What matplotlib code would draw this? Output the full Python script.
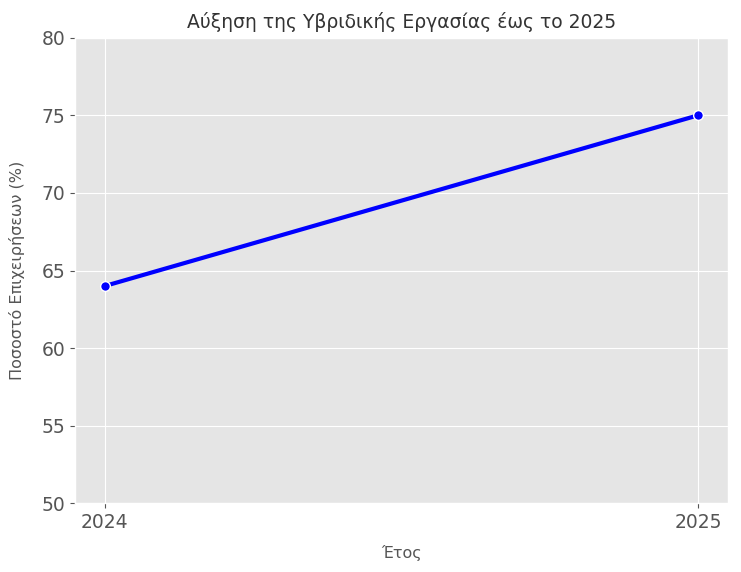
import matplotlib.pyplot as plt

years = [2024, 2025]
percent = [64, 75]

plt.style.use('ggplot')
fig, ax = plt.subplots(figsize=(7.41, 5.72), dpi=100)

ax.plot(years, percent, color='blue', linewidth=3, marker='o',
        markersize=7, markeredgecolor='white', markeredgewidth=1)

ax.set_title('Αύξηση της Υβριδικής Εργασίας έως το 2025', fontsize=13.5, color='#333333', pad=7)
ax.set_xlabel('Έτος', fontsize=11.5, labelpad=9)
ax.set_ylabel('Ποσοστό Επιχειρήσεων (%)', fontsize=11.5, labelpad=12)
ax.set_xticks(years)
ax.set_xticklabels([str(y) for y in years])
ax.set_ylim(50, 80)
ax.tick_params(labelsize=13.5)

fig.subplots_adjust(left=0.101, right=0.982, top=0.934, bottom=0.12)
fig.savefig('out.png', dpi=100)
